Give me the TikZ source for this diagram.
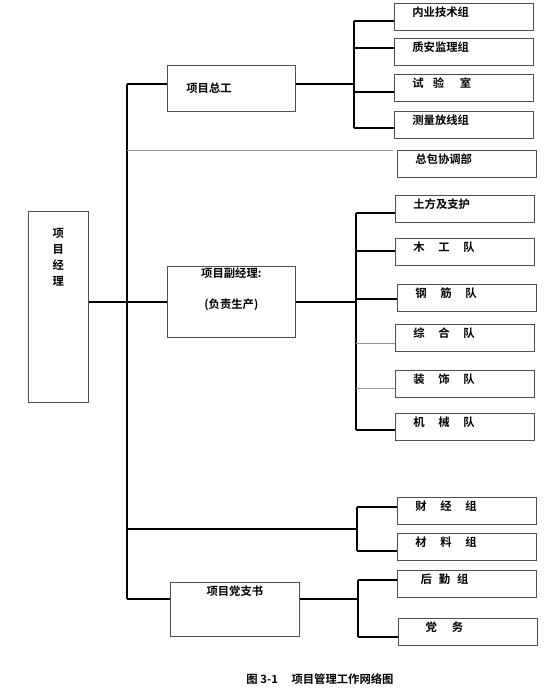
\documentclass[tikz,border=0pt]{standalone}
\usepackage{fontspec}
\newfontfamily\cjk{Noto Sans CJK SC}[BoldFont={Noto Sans CJK SC Bold}]
\usepackage{tikz}
\usetikzlibrary{positioning, calc}
\definecolor{edge}{RGB}{80,80,80}
\definecolor{faint}{RGB}{150,150,150}
\newcommand{\jg}{\hspace{1.2em}}

\begin{document}
\begin{tikzpicture}[x=0.75pt, y=-0.75pt,
  every node/.style={font=\cjk\bfseries\fontsize{8.5}{10}\selectfont},
  post/.style={draw=edge, line width=0.6pt, anchor=north west, inner sep=0pt},
  unit/.style={post, text width=77.25pt, inner xsep=13.5pt, minimum height=20.25pt,
               align=left, text height=5pt, text depth=5pt},
  head/.style={post, minimum width=96pt},
  link/.style={line width=1.1pt},
  spur/.style={line width=0.5pt, draw=faint},
]
  \useasboundingbox (0,0) rectangle (553,695);

  % Project manager and the three deputies
  \node[post, minimum width=45pt, minimum height=143.25pt,
        label={[anchor=north, yshift=-13pt, align=center, inner sep=0pt,
                font=\cjk\bfseries\fontsize{8.5}{12}\selectfont]north:{项\\目\\经\\理}}] (xmjl) at (28,211) {};
  \node[head, minimum height=34.5pt, text width=67.5pt, inner xsep=14.25pt, align=left] (xmzg) at (167,65) {项目总工};
  \node[head, minimum height=53.25pt,
        label={[anchor=north, yshift=-1.5pt, align=center, inner sep=0pt,
                font=\cjk\bfseries\fontsize{8.5}{23}\selectfont]north:{项目副经理:\\(负责生产)}}] (fjl) at (167,266) {};
  \node[post, minimum width=96.75pt, minimum height=40.5pt,
        label={[anchor=north, yshift=-3pt, inner sep=0pt]north:{项目党支书}}] (dzs) at (170,582) {};

  % Groups and teams on the right
  \foreach \n/\x/\y/\t in {nyjs/394/3/内业技术组, zajl/394/38/质安监理组,
      sys/394/74/试\hspace{0.8em}验\hspace{1.4em}室, clfx/394/111/测量放线组,
      zbxt/397/150/总包协调部, tfzh/395/195/土方及支护, mgd/395/238/木\jg 工\jg 队,
      gjd/397/284/钢\jg 筋\jg 队, zhd/395/324/综\jg 合\jg 队, zsd/395/370/装\jg 饰\jg 队,
      jxd/395/413/机\jg 械\jg 队, cjz/397/497/财\jg 经\jg 组, clz/397/533/材\jg 料\jg 组,
      hqz/397/570/\hspace{4pt}后\hspace{0.6em}勤\hspace{0.6em}组, dw/398/618/\hspace{7pt}党\hspace{1.3em}务}
    \node[unit] (\n) at (\x,\y) {\t};

  % Entry points of the connectors
  \foreach \n/\off in {nyjs/18, zajl/10, sys/18, clfx/17, tfzh/18, mgd/13, gjd/15,
      zhd/19, zsd/18, jxd/17, cjz/10, clz/18, hqz/10, dw/19, xmzg/19, dzs/17}
    \coordinate (\n-in) at ($(\n.north west)+(0,\off)$);

  \coordinate (trunk) at (127,0);
  \coordinate (spA) at (354,0);
  \coordinate (spB) at (356,0);
  \coordinate (spC) at (357,529);
  \coordinate (spD) at (358,0);

  % Main trunk
  \draw[link] (trunk |- xmzg-in) -- (trunk |- dzs-in);
  \draw[link] (trunk |- xmzg-in) -- (xmzg-in);
  \draw[link] (xmjl.east |- fjl.west) -- (fjl.west);
  \draw[link] (trunk |- dzs-in) -- (dzs-in);
  \draw[link] (trunk |- spC) -- (spC);
  \draw[spur] (trunk |- zbxt.north west) -- ([xshift=-3pt]zbxt.north west);

  % Chief engineer branch
  \draw[link] (xmzg-in -| xmzg.east) -- (spA |- xmzg-in);
  \draw[link] (spA |- nyjs-in) -- (spA |- clfx-in);
  \foreach \n in {nyjs, zajl, sys, clfx}
    \draw[link] (spA |- \n-in) -- (\n-in);

  % Deputy manager branch
  \draw[link] (fjl.east) -- (spB |- fjl.east);
  \draw[link] (spB |- tfzh-in) -- (spB |- jxd-in);
  \foreach \n in {tfzh, mgd, gjd, jxd}
    \draw[link] (spB |- \n-in) -- (\n-in);
  \foreach \n in {zhd, zsd}
    \draw[spur] (spB |- \n-in) -- (\n-in);

  % Finance and materials
  \draw[link] (spC |- cjz-in) -- (spC |- clz-in);
  \foreach \n in {cjz, clz}
    \draw[link] (spC |- \n-in) -- (\n-in);

  % Party secretary branch
  \draw[link] (dzs-in -| dzs.east) -- (spD |- dzs-in);
  \draw[link] (spD |- hqz-in) -- (spD |- dw-in);
  \foreach \n in {hqz, dw}
    \draw[link] (spD |- \n-in) -- (\n-in);

  % Caption
  \node (caption) at (320,679) {图 3-1\hspace{1.2em}项目管理工作网络图};
\end{tikzpicture}
\end{document}
